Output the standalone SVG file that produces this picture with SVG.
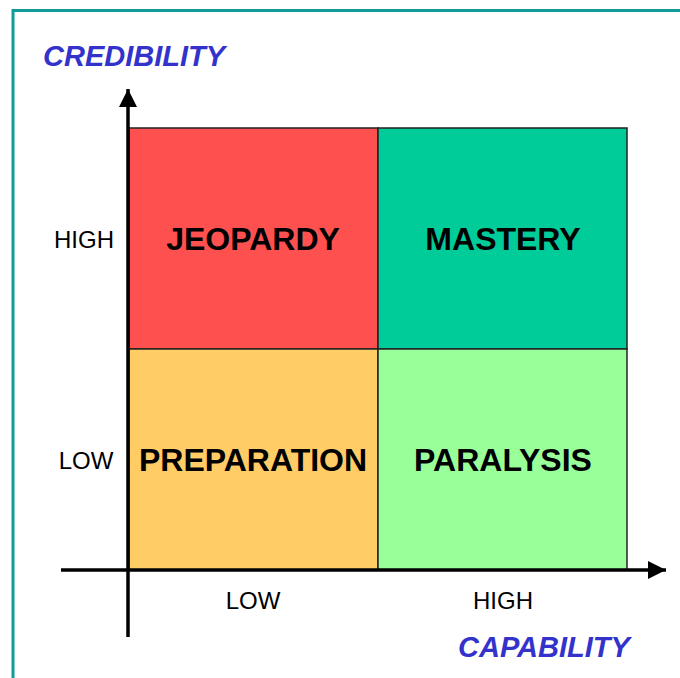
<svg xmlns="http://www.w3.org/2000/svg" width="680" height="678" viewBox="0 0 680 678">
  <style>
    .quad { stroke: #222; stroke-width: 1.5; }
    .qlabel { font-family: "Liberation Sans", Arial, sans-serif; font-weight: bold; font-size: 32px; fill: #000; text-anchor: middle; }
    .tick { font-family: "Liberation Sans", Arial, sans-serif; font-size: 24px; fill: #000; text-anchor: middle; }
    .axis-title { font-family: "Liberation Sans", Arial, sans-serif; font-weight: bold; font-style: italic; font-size: 29px; fill: #3333CC; }
    .axis { stroke: #000; stroke-width: 3.5; fill: none; }
  </style>
  <defs>
    <marker id="arrow" viewBox="0 0 10 10" refX="10" refY="5" markerWidth="5.2" markerHeight="5.2" markerUnits="strokeWidth" orient="auto">
      <path d="M0,0 L10,5 L0,10 Z" fill="#000"/>
    </marker>
  </defs>

  <rect width="680" height="678" fill="#fff"/>
  <!-- frame -->
  <path d="M13,678 V10.5 H680" fill="none" stroke="#109C9C" stroke-width="3"/>

  <!-- quadrants -->
  <g id="jeopardy">
    <rect class="quad" x="129" y="128" width="249" height="221" fill="#FF5050"/>
    <text class="qlabel" x="253" y="250">JEOPARDY</text>
  </g>
  <g id="mastery">
    <rect class="quad" x="378" y="128" width="249" height="221" fill="#00CC99"/>
    <text class="qlabel" x="503" y="250">MASTERY</text>
  </g>
  <g id="preparation">
    <rect class="quad" x="129" y="349" width="249" height="221" fill="#FFCC66"/>
    <text class="qlabel" x="253" y="471">PREPARATION</text>
  </g>
  <g id="paralysis">
    <rect class="quad" x="378" y="349" width="249" height="221" fill="#99FF99"/>
    <text class="qlabel" x="503" y="471">PARALYSIS</text>
  </g>

  <!-- axes -->
  <g id="connectors">
    <line class="axis" x1="128" y1="637" x2="128" y2="89" marker-end="url(#arrow)"/>
    <line class="axis" x1="61" y1="570" x2="666" y2="570" marker-end="url(#arrow)"/>
  </g>

  <!-- axis labels -->
  <g id="labels">
    <text class="tick" x="84" y="248">HIGH</text>
    <text class="tick" x="86" y="469">LOW</text>
    <text class="tick" x="253" y="609">LOW</text>
    <text class="tick" x="503" y="609">HIGH</text>
    <text class="axis-title" x="43" y="66">CREDIBILITY</text>
    <text class="axis-title" x="458" y="657">CAPABILITY</text>
  </g>
</svg>
